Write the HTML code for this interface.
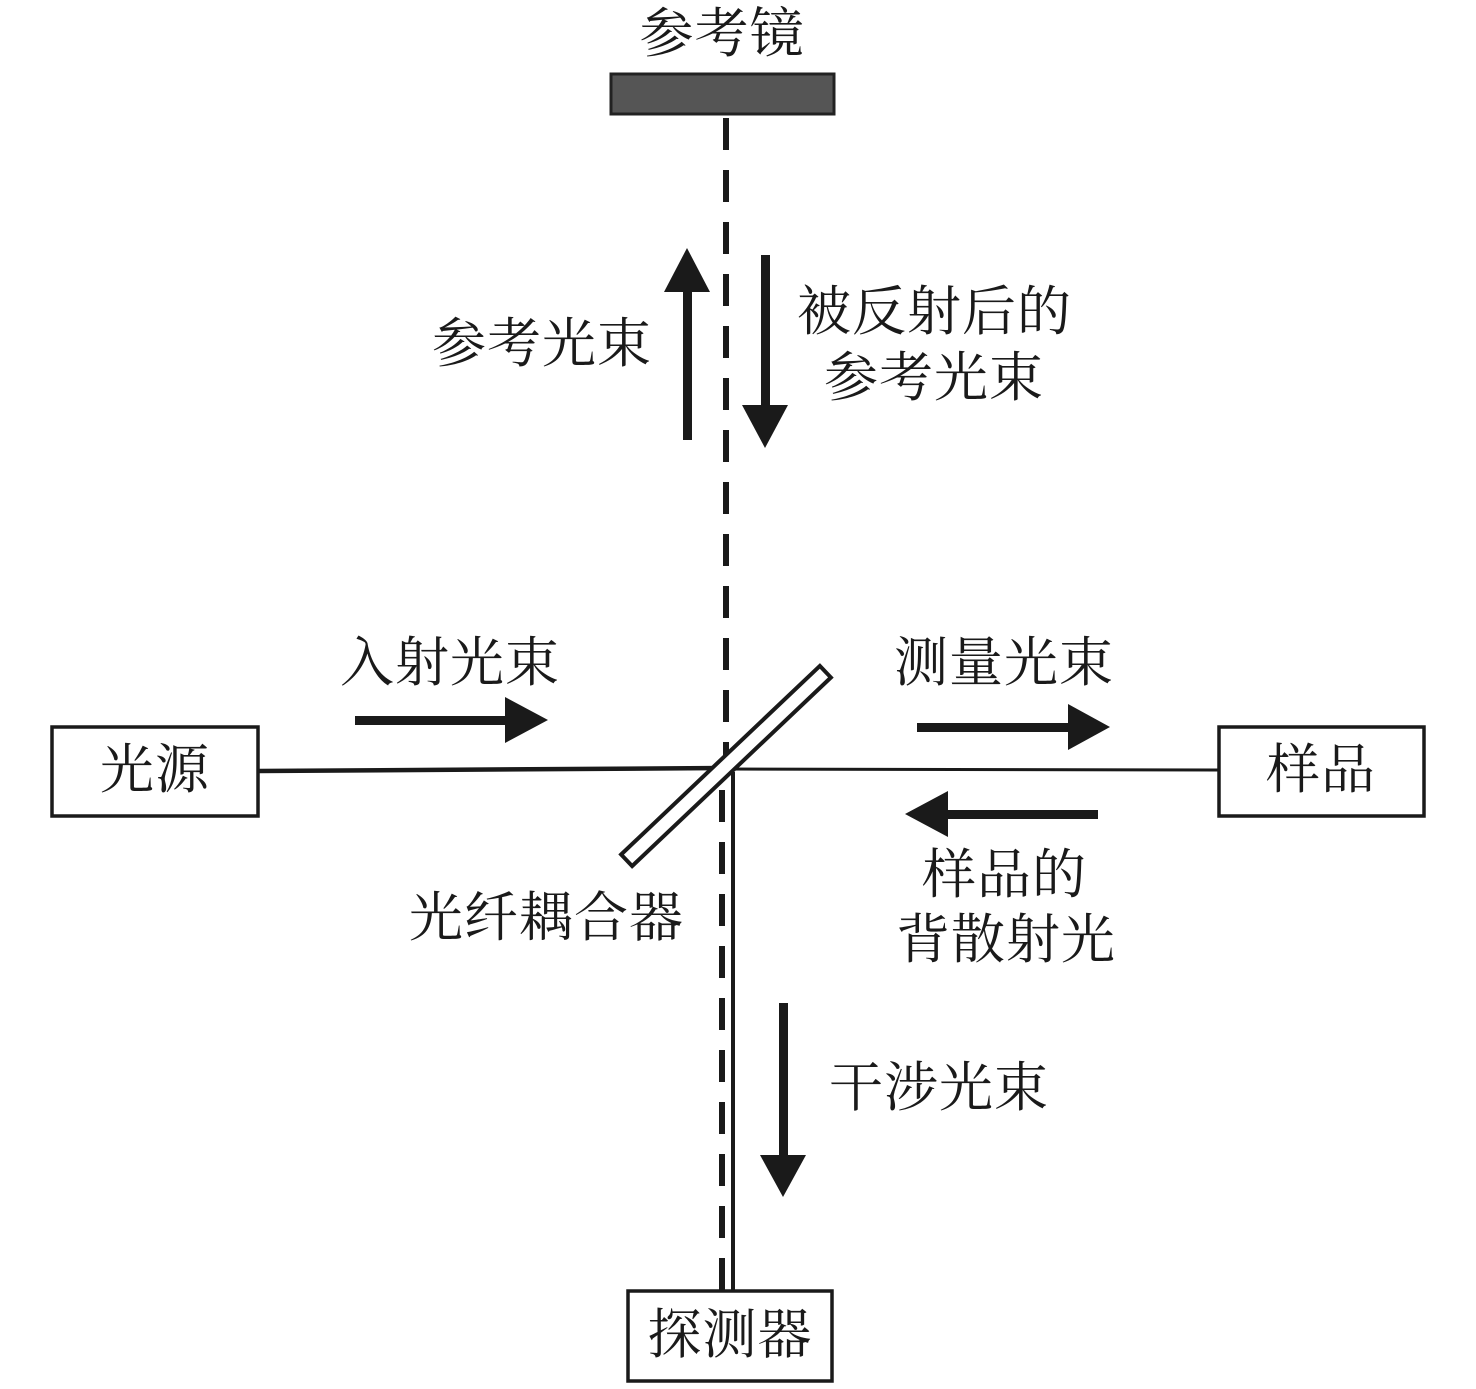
<!DOCTYPE html>
<html><head><meta charset="utf-8"><style>
html,body{margin:0;padding:0;background:#fff;}
svg{display:block;}
text{font-family:"Liberation Serif","Noto Serif CJK SC",serif;font-size:54px;fill:#1a1a1a;letter-spacing:1px;}
</style></head><body>
<svg width="1476" height="1389" viewBox="0 0 1476 1389" xmlns="http://www.w3.org/2000/svg">
<rect x="611" y="74" width="223" height="40" fill="#555" stroke="#222" stroke-width="3"/>
<text x="722" y="52" text-anchor="middle">参考镜</text>
<line x1="726" y1="118" x2="726" y2="765" stroke="#1a1a1a" stroke-width="6" stroke-dasharray="32,20"/>
<line x1="722" y1="790" x2="722" y2="1290" stroke="#1a1a1a" stroke-width="6" stroke-dasharray="32,20"/>
<line x1="733" y1="772" x2="733" y2="1290" stroke="#1a1a1a" stroke-width="4"/>
<line x1="259" y1="771" x2="725" y2="768" stroke="#1a1a1a" stroke-width="4.5"/>
<line x1="725" y1="769" x2="1218" y2="770" stroke="#1a1a1a" stroke-width="3"/>
<g transform="translate(726,766) rotate(-43.5)">
<rect x="-137" y="-8" width="274" height="16" fill="#fff" stroke="#1a1a1a" stroke-width="4"/>
</g>
<rect x="52" y="727" width="206" height="89" fill="#fff" stroke="#1a1a1a" stroke-width="3.5"/>
<text x="155" y="788" text-anchor="middle">光源</text>
<rect x="1219" y="727" width="205" height="89" fill="#fff" stroke="#1a1a1a" stroke-width="3.5"/>
<text x="1321" y="788" text-anchor="middle">样品</text>
<rect x="628" y="1291" width="204" height="90" fill="#fff" stroke="#1a1a1a" stroke-width="3.5"/>
<text x="730" y="1353" text-anchor="middle">探测器</text>
<g fill="#1a1a1a">
<rect x="683" y="288" width="9" height="152"/><polygon points="664,292 710,292 687,248"/>
<rect x="761" y="255" width="9" height="152"/><polygon points="742,405 788,405 765,448"/>
<rect x="355" y="716" width="152" height="9"/><polygon points="505,697 505,743 548,720"/>
<rect x="917" y="723" width="153" height="9"/><polygon points="1068,704 1068,750 1110,727"/>
<rect x="946" y="810" width="152" height="9"/><polygon points="948,791 948,837 905,814"/>
<rect x="779" y="1003" width="9" height="154"/><polygon points="760,1155 806,1155 783,1197"/>
</g>
<text x="432" y="362">参考光束</text>
<text x="797" y="330">被反射后的</text>
<text x="824" y="396">参考光束</text>
<text x="340" y="681">入射光束</text>
<text x="894" y="681">测量光束</text>
<text x="922" y="893">样品的</text>
<text x="896" y="958">背散射光</text>
<text x="409" y="936">光纤耦合器</text>
<text x="829" y="1106">干涉光束</text>
</svg>
</body></html>
